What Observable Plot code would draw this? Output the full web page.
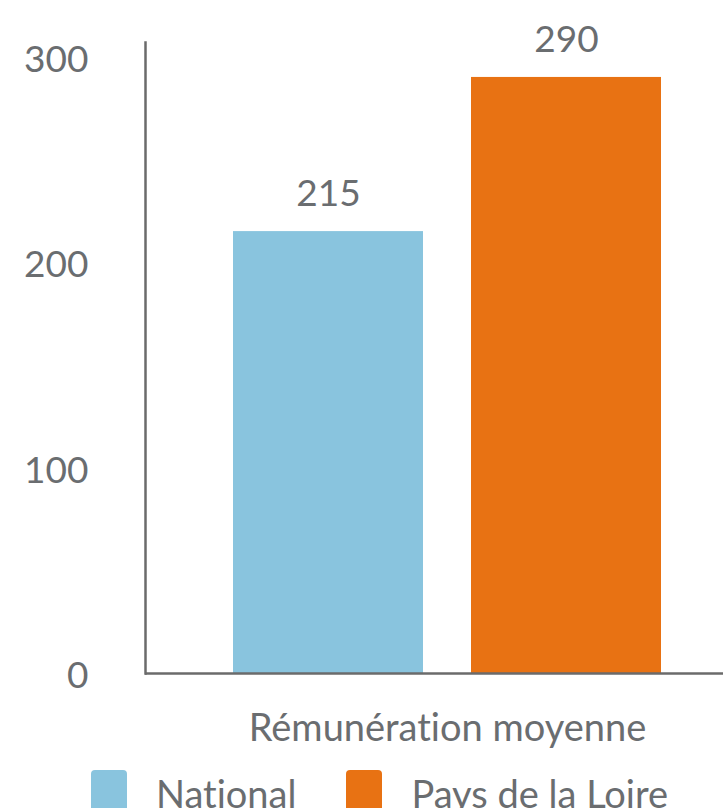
<!DOCTYPE html>
<html><head><meta charset="utf-8">
<script src="https://cdn.jsdelivr.net/npm/d3@7"></script>
<script src="https://cdn.jsdelivr.net/npm/@observablehq/plot@0.6"></script>
<style>
body{margin:0;background:#fff;font-family:Lato,sans-serif;overflow:hidden;font-variant-ligatures:none;}
#wrap{width:723px;height:763px;overflow:hidden;}
#wrap svg{display:block;max-width:none;font-variant-ligatures:none;}
.legend{display:flex;align-items:flex-start;margin-top:7px;padding-left:91px;color:#6a6d70;font-size:38px;line-height:42px;white-space:nowrap;font-variant-ligatures:none;}
.item{display:flex;align-items:flex-start;margin-right:50px;}
.sw{width:36px;height:42px;border-radius:4px;margin-right:29px;}
.lbl{padding-top:2px;}
</style></head><body>
<div id="wrap"></div>
<div class="legend" id="legend"></div>
<script>
const categories = ["Rémunération moyenne"];
const series = ["National", "Pays de la Loire"];
const values = [215, 290];
const colors = ["#89c4de", "#e87213"];
const yTicks = [0, 100, 200, 300];

const data = series.map((s, i) => ({series: s, category: categories[0], value: values[i]}));
const textColor = "#6a6d70";
const axisColor = "#6b6b6b";

const chart = Plot.plot({
  width: 749, height: 763,
  marginLeft: 145, marginRight: 0, marginTop: 42, marginBottom: 90,
  style: {fontFamily: "Lato, sans-serif", color: textColor, background: "#fff", fontVariantLigatures: "none"},
  x: {domain: series, paddingInner: 0.2008, paddingOuter: 0.364, axis: null},
  y: {domain: [0, 307], axis: null},
  color: {domain: series, range: colors},
  marks: [
    Plot.barY(data, {x: "series", y: "value", fill: "series"}),
    Plot.text(data, {x: "series", y: "value", text: d => String(d.value), dy: -37, fontSize: 37, fill: textColor}),
    Plot.axisY({ticks: yTicks, tickSize: 0, tickPadding: 57, fontSize: 37, label: null, dy: 3, fill: textColor}),
    Plot.frame({anchor: "left", stroke: axisColor, strokeWidth: 2.5}),
    Plot.ruleY([0], {stroke: axisColor, strokeWidth: 2.5}),
    Plot.text(categories, {text: d => d, frameAnchor: "bottom", lineAnchor: "middle", dy: 55, fontSize: 38, fill: textColor})
  ]
});
document.getElementById("wrap").appendChild(chart);

const legend = document.getElementById("legend");
series.forEach((s, i) => {
  const item = document.createElement("div");
  item.className = "item";
  const sw = document.createElement("div");
  sw.className = "sw";
  sw.style.background = colors[i];
  const lbl = document.createElement("div");
  lbl.className = "lbl";
  lbl.textContent = s;
  item.appendChild(sw); item.appendChild(lbl);
  legend.appendChild(item);
});
</script>
</body></html>
